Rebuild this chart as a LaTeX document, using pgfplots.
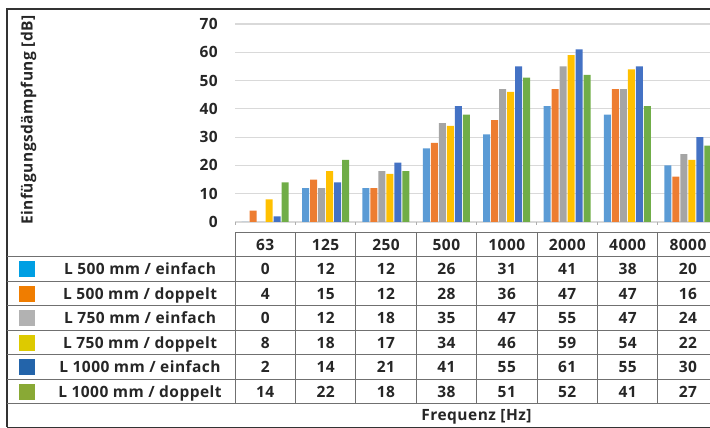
\documentclass[border=0pt]{standalone}
\usepackage{pgfplots}
\pgfplotsset{compat=1.18}
\usepackage{pgfplotstable}
\usepackage{fontspec}
\setmainfont{Open Sans}[LetterSpace=3]
\definecolor{c1}{HTML}{5B9BD5}
\definecolor{c2}{HTML}{ED7D31}
\definecolor{c3}{HTML}{A5A5A5}
\definecolor{c4}{HTML}{FFC000}
\definecolor{c5}{HTML}{4472C4}
\definecolor{c6}{HTML}{70AD47}
\definecolor{l1}{HTML}{009FE3}
\definecolor{l2}{HTML}{F07D00}
\definecolor{l3}{HTML}{B2B2B2}
\definecolor{l4}{HTML}{DDCA00}
\definecolor{l5}{HTML}{2364AA}
\definecolor{l6}{HTML}{89A935}
\definecolor{gridc}{HTML}{D9D9D9}
\definecolor{tabc}{HTML}{707070}
\pgfplotstableread{
x f s1 s2 s3 s4 s5 s6
0 63 0 4 0 8 2 14
1 125 12 15 12 18 14 22
2 250 12 12 18 17 21 18
3 500 26 28 35 34 41 38
4 1000 31 36 47 46 55 51
5 2000 41 47 55 59 61 52
6 4000 38 47 47 54 55 41
7 8000 20 16 24 22 30 27
}\data
\newcommand{\tf}{\fontsize{15.5bp}{18bp}\selectfont\bfseries}
\begin{document}
\begin{tikzpicture}
\useasboundingbox (0,0) rectangle (710bp,428bp);
\clip (0,0) rectangle (710bp,428bp);
\begin{axis}[
  at={(235bp,206bp)}, anchor=south west, scale only axis,
  width=483bp, height=198bp,
  xmin=-0.5, xmax=7.5, ymin=0, ymax=70, enlargelimits=false,
  ybar=1bp, bar width=7bp,
  axis line style={draw=none},
  ytick={0,10,...,70},
  ymajorgrids, grid style={gridc, line width=1.2bp},
  ytick style={draw=none},
  xtick={-0.5,0.5,...,7.5}, xticklabels={},
  xtick pos=bottom, xtick align=outside,
  major tick length=3bp,
  xtick style={draw=gridc!80!black, line width=0.8bp},
  /pgf/number format/assume math mode=true,
  yticklabel style={font=\tf, color=black!85, anchor=east, inner sep=0pt, xshift=-17bp},
]
\addplot[fill=c1, draw=none] table[x=x,y=s1]{\data};
\addplot[fill=c2, draw=none] table[x=x,y=s2]{\data};
\addplot[fill=c3, draw=none] table[x=x,y=s3]{\data};
\addplot[fill=c4, draw=none] table[x=x,y=s4]{\data};
\addplot[fill=c5, draw=none] table[x=x,y=s5]{\data};
\addplot[fill=c6, draw=none] table[x=x,y=s6]{\data};
\end{axis}
\begin{scope}[x=1bp, y=1bp, font=\tf, text=black!85,
  every node/.style={text height=11bp, text depth=0pt, inner sep=0pt}]
  % y label
  \node[rotate=90] at (27,308) {Einfügungsdämpfung [dB]};
  % frame
  \draw[line width=1.3bp, black!80] (7,0.8) -- (7,419) -- (730,419);
  \draw[line width=1.3bp, black!80] (7,0.8) -- (730,0.8);
  % table lines
  \draw[tabc, line width=1bp] (235,195) -- (730,195);
  \foreach \yy in {171,146.5,122,97.5,73,48.5,24}
    \draw[tabc, line width=1bp] (7,\yy) -- (730,\yy);
  \foreach \k in {0,...,8}
    \draw[tabc, line width=1bp] ({235+60.4*\k},195) -- ({235+60.4*\k},24);
  % legend keys and labels
  \foreach \r/\lab in {1/{L 500 mm / einfach},2/{L 500 mm / doppelt},3/{L 750 mm / einfach},4/{L 750 mm / doppelt},5/{L 1000 mm / einfach},6/{L 1000 mm / doppelt}} {
    \fill[l\r] (19,{158.75-24.5*(\r-1)-8}) rectangle (35,{158.75-24.5*(\r-1)+8});
    \node at (140,{158.75-24.5*(\r-1)}) {\lab};
  }
  % table values
  \foreach \c in {0,...,7} {
    \pgfplotstablegetelem{\c}{f}\of\data
    \node at ({265.2+60.4*\c},183) {\pgfplotsretval};
    \foreach \r in {1,...,6} {
      \pgfplotstablegetelem{\c}{s\r}\of\data
      \node at ({265.2+60.4*\c},{158.75-24.5*(\r-1)}) {\pgfplotsretval};
    }
  }
  \node at (476.5,13) {Frequenz [Hz]};
\end{scope}
\end{tikzpicture}
\end{document}
